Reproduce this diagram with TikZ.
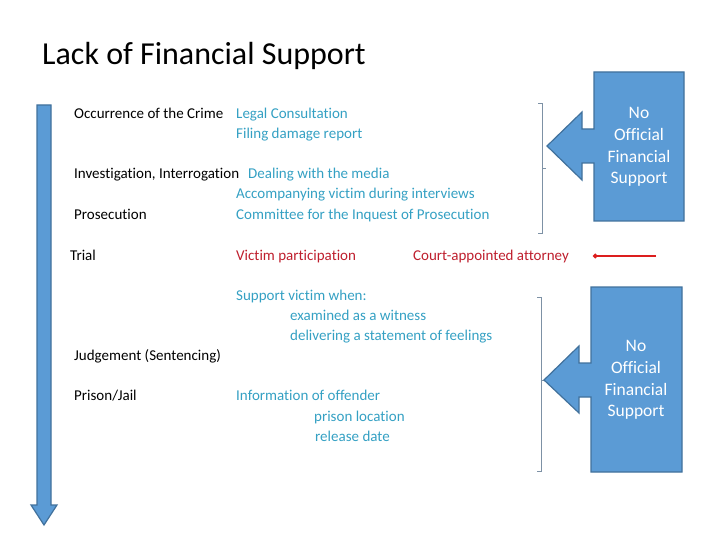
\documentclass[tikz,border=0pt]{standalone}
\usepackage{fontspec}
\setmainfont{Carlito}[Ligatures=NoCommon]
\usetikzlibrary{arrows.meta}
\definecolor{boxblue}{RGB}{91,155,213}
\definecolor{boxedge}{RGB}{65,113,156}
\definecolor{aqua}{RGB}{52,160,195}
\definecolor{darkred}{RGB}{190,30,45}
\definecolor{redline}{RGB}{220,30,30}
\definecolor{bracket}{RGB}{125,145,165}
\begin{document}
\begin{tikzpicture}[x=1pt,y=-1pt,
    stage/.style={anchor=base west,inner sep=0pt,font=\fontsize{15}{17}\selectfont},
    help/.style={stage,text=aqua},
    trialhelp/.style={stage,text=darkred},
    callout/.style={fill=boxblue,draw=boxedge,line width=1.2pt,line join=miter},
    callouttext/.style={align=center,text=white,font=\fontsize{17.5}{21.7}\selectfont},
    brace/.style={draw=bracket,line width=0.7pt}]
  \useasboundingbox (0,0) rectangle (720,540);
  \node[anchor=base west,inner sep=0pt,font=\fontsize{32}{36}\selectfont] (title) at (42,65) {Lack of Financial Support};
  \draw[callout] (37,105) -- (51,105) -- (51,505) -- (57,505) -- (44,525) -- (31,505) -- (37,505) -- cycle;
  \node[stage] (crime) at (74,119) {Occurrence of the Crime};
  \node[stage] (invest) at (74,179) {Investigation, Interrogation};
  \node[stage] (prosec) at (74,220) {Prosecution};
  \node[stage] (trial) at (70,260) {Trial};
  \node[stage] (judge) at (74,360) {Judgement (Sentencing)};
  \node[stage] (prison) at (74,400) {Prison/Jail};
  \node[help] (legal) at (236,119) {Legal Consultation};
  \node[help] (damage) at (236,139) {Filing damage report};
  \node[help] (media) at (248,179) {Dealing with the media};
  \node[help] (accomp) at (236,199) {Accompanying victim during interviews};
  \node[help] (inquest) at (236,220) {Committee for the Inquest of Prosecution};
  \node[trialhelp] (partic) at (236,260) {Victim participation};
  \node[trialhelp] (attorney) at (413,260) {Court-appointed attorney};
  \node[help] (support) at (236,300) {Support victim when:};
  \node[help] (witness) at (290,320) {examined as a witness};
  \node[help] (feelings) at (290,340) {delivering a statement of feelings};
  \node[help] (offender) at (236,400) {Information of offender};
  \node[help] (location) at (314,421) {prison location};
  \node[help] (release) at (315,441) {release date};
  \draw[brace] (538,103) -- (542,103) -- (542,233) -- (538,233) (542,168) -- (546,168);
  \draw[brace] (537,297) -- (541,297) -- (541,471) -- (537,471) (541,380) -- (545,380);
  \draw[callout] (684,72) -- (594,72) -- (594,129) -- (582,129) -- (582,112) -- (547,146)
    -- (582,180) -- (582,163) -- (594,163) -- (594,221) -- (684,221) -- cycle;
  \node[callouttext] (nofs1) at (639,147) {No\\Official\\Financial\\Support};
  \draw[callout] (682,287) -- (591,287) -- (591,363) -- (579,363) -- (579,346) -- (544,380)
    -- (579,413) -- (579,397) -- (591,397) -- (591,472) -- (682,472) -- cycle;
  \node[callouttext] (nofs2) at (636,380) {No\\Official\\Financial\\Support};
  \coordinate (redstart) at (656,256);
  \coordinate (redend) at (593,256);
  \draw[redline,line width=2.8pt,-{Circle[length=4.5pt]}] (redstart) -- (redend);
\end{tikzpicture}
\end{document}
